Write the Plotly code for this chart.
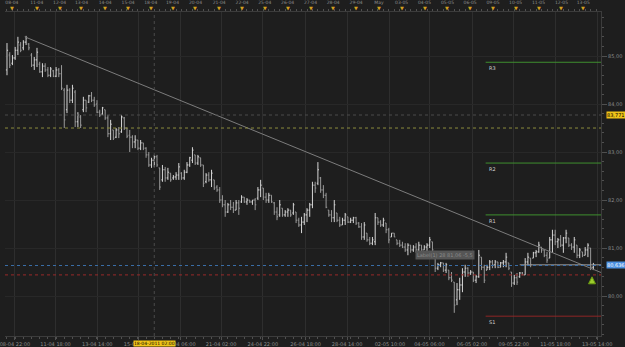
import plotly.graph_objects as go

# ---------------- data ----------------
high = [85.27,85.08,85.02,85.19,85.40,85.29,85.33,85.42,85.27,85.06,84.98,85.17,84.88,84.85,84.85,84.77,84.77,84.71,84.77,84.75,
        84.81,84.33,84.40,84.33,84.40,84.29,83.83,83.77,84.15,84.08,84.19,84.25,84.15,84.08,83.88,83.94,83.88,83.77,83.67,83.46,
        83.50,83.52,83.77,83.73,83.50,83.46,83.35,83.35,83.25,83.25,83.19,83.10,83.00,82.88,82.94,82.94,82.67,82.73,82.69,82.67,
        82.56,82.52,82.58,82.77,82.58,82.63,82.79,82.90,83.10,82.94,82.94,82.88,82.73,82.56,82.58,82.63,82.42,82.31,82.27,82.10,
        82.00,81.94,82.00,81.96,82.00,82.00,82.10,82.06,82.04,82.00,82.00,82.04,82.27,82.42,82.25,82.15,82.15,82.10,81.96,81.85,
        82.00,81.83,81.79,81.83,81.79,81.94,81.75,81.63,81.65,81.73,81.83,81.94,82.38,82.38,82.79,82.48,82.31,82.15,81.79,81.79,
        82.00,81.73,81.65,81.63,81.73,81.65,81.63,81.65,81.65,81.54,81.52,81.54,81.31,81.23,81.23,81.73,81.63,81.58,81.63,81.52,
        81.42,81.31,81.31,81.17,81.17,81.13,81.10,81.10,81.06,81.06,81.10,81.13,81.06,81.06,81.10,81.23,81.13,80.79,80.69,80.71,
        80.69,80.69,80.54,80.50,80.29,80.27,80.38,80.58,80.65,80.60,80.54,80.50,80.44,80.96,80.81,80.65,80.65,80.75,80.75,80.75,
        80.71,80.71,80.75,80.90,80.69,80.50,80.44,80.48,80.50,80.50,80.79,80.90,80.79,80.92,80.96,81.13,81.02,80.96,80.92,81.23,
        81.38,81.38,81.21,81.27,81.23,81.38,81.21,81.10,81.23,81.06,81.00,80.92,81.02,81.10,81.00,80.69]
low = [84.60,84.75,84.81,84.92,85.02,85.08,85.12,85.23,85.12,84.77,84.71,84.77,84.65,84.56,84.67,84.56,84.56,84.56,84.56,84.56,
       84.29,83.50,83.81,84.02,84.02,83.52,83.52,83.50,83.83,83.83,84.02,84.04,83.94,83.81,83.73,83.77,83.67,83.31,83.25,83.25,
       83.29,83.29,83.40,83.46,83.29,83.00,83.08,83.08,83.04,83.04,83.04,82.88,82.69,82.67,82.69,82.69,82.21,82.38,82.38,82.42,
       82.38,82.42,82.42,82.42,82.42,82.42,82.56,82.69,82.77,82.73,82.73,82.69,82.27,82.35,82.38,82.27,82.21,82.17,81.94,81.85,
       81.65,81.73,81.79,81.73,81.79,81.69,81.94,81.94,81.90,81.94,81.90,81.79,82.00,82.06,82.00,81.94,81.94,81.94,81.69,81.58,
       81.65,81.65,81.65,81.65,81.65,81.69,81.52,81.44,81.31,81.48,81.54,81.65,81.83,82.15,82.31,82.15,82.04,81.83,81.65,81.54,
       81.54,81.54,81.44,81.48,81.48,81.52,81.52,81.52,81.48,81.42,81.17,81.17,81.13,81.06,81.06,81.06,81.48,81.44,81.44,81.31,
       81.10,81.23,81.23,81.06,81.02,81.00,80.92,80.85,80.90,80.92,80.90,80.92,80.92,80.96,80.92,81.00,80.90,80.50,80.54,80.60,
       80.50,80.48,80.33,80.29,79.65,79.81,79.92,80.08,80.40,80.40,80.44,80.29,80.27,80.38,80.54,80.27,80.54,80.54,80.58,80.58,
       80.58,80.60,80.60,80.60,80.54,80.19,80.23,80.23,80.38,80.44,80.44,80.65,80.60,80.79,80.81,80.90,80.90,80.81,80.69,80.79,
       80.90,81.06,81.00,81.02,80.90,81.10,81.02,80.96,80.90,80.79,80.79,80.81,80.85,80.81,80.54,80.54]
open_ = [84.71,85.02,84.85,84.96,85.12,85.23,85.17,85.29,85.25,85.02,84.81,84.92,84.83,84.67,84.79,84.71,84.60,84.69,84.58,84.71,
         84.63,84.29,83.88,84.29,84.08,84.25,83.63,83.73,83.88,84.08,84.04,84.17,84.08,84.00,83.83,83.79,83.88,83.71,83.38,83.46,
         83.31,83.46,83.42,83.71,83.50,83.35,83.31,83.21,83.25,83.08,83.19,83.08,82.94,82.73,82.83,82.90,82.67,82.42,82.63,82.46,
         82.56,82.46,82.48,82.52,82.56,82.46,82.58,82.73,82.83,82.94,82.77,82.88,82.73,82.38,82.52,82.42,82.42,82.27,82.21,82.00,
         81.90,81.75,81.90,81.85,81.79,81.94,81.96,82.06,81.96,82.00,81.96,82.00,82.04,82.21,82.25,82.06,82.00,82.10,81.94,81.75,
         81.69,81.83,81.69,81.75,81.79,81.73,81.75,81.58,81.48,81.54,81.69,81.79,81.90,82.31,82.35,82.46,82.21,82.10,81.79,81.69,
         81.63,81.73,81.58,81.48,81.58,81.65,81.54,81.58,81.63,81.52,81.44,81.23,81.31,81.17,81.10,81.13,81.63,81.54,81.48,81.52,
         81.38,81.23,81.31,81.17,81.10,81.06,81.02,80.96,81.06,80.96,81.02,80.96,81.06,80.96,81.02,81.06,81.13,80.79,80.58,80.65,
         80.69,80.54,80.54,80.38,80.29,79.92,80.13,80.23,80.50,80.58,80.48,80.50,80.33,80.40,80.81,80.60,80.54,80.60,80.71,80.65,
         80.71,80.60,80.69,80.71,80.69,80.50,80.27,80.38,80.40,80.48,80.44,80.71,80.79,80.79,80.90,80.92,81.02,80.96,80.85,80.79,
         81.17,81.27,81.13,81.17,81.06,81.21,81.21,81.06,81.02,81.06,80.85,80.92,80.85,80.96,81.00,80.60]
close = [85.12,84.81,84.96,85.12,85.29,85.12,85.29,85.38,85.17,84.81,84.92,85.08,84.67,84.79,84.71,84.60,84.73,84.58,84.71,84.63,
         84.33,83.67,84.29,84.08,84.33,83.63,83.77,83.56,84.08,83.92,84.17,84.08,83.98,83.83,83.77,83.92,83.71,83.38,83.58,83.29,
         83.46,83.38,83.73,83.50,83.33,83.31,83.21,83.25,83.08,83.19,83.08,82.94,82.73,82.83,82.90,82.73,82.27,82.63,82.46,82.58,
         82.42,82.48,82.52,82.69,82.46,82.58,82.73,82.88,83.04,82.77,82.90,82.73,82.35,82.52,82.42,82.56,82.25,82.21,82.00,81.90,
         81.75,81.90,81.85,81.79,81.94,81.83,82.06,81.96,82.00,81.96,82.00,81.90,82.21,82.31,82.06,82.00,82.10,81.96,81.75,81.65,
         81.90,81.69,81.75,81.79,81.69,81.90,81.58,81.48,81.54,81.69,81.79,81.90,82.31,82.25,82.63,82.21,82.10,81.85,81.69,81.63,
         81.90,81.58,81.48,81.58,81.69,81.54,81.58,81.63,81.52,81.44,81.23,81.48,81.17,81.10,81.17,81.63,81.54,81.48,81.58,81.38,
         81.17,81.31,81.23,81.10,81.06,81.02,80.96,81.06,80.96,81.02,80.96,81.06,80.96,81.02,81.06,81.17,80.96,80.58,80.65,80.69,
         80.54,80.65,80.38,80.33,79.81,80.13,80.23,80.50,80.58,80.48,80.50,80.33,80.40,80.85,80.60,80.33,80.60,80.71,80.65,80.71,
         80.60,80.69,80.71,80.81,80.58,80.27,80.38,80.29,80.48,80.44,80.71,80.81,80.65,80.90,80.92,81.06,80.96,80.85,80.75,81.17,
         81.27,81.13,81.17,81.06,81.21,81.31,81.06,81.02,81.17,80.85,80.96,80.85,80.96,81.06,80.60,80.65]
bars = list(range(len(close)))

top_tick_pos = [1.8,10.9,19.3,27.3,36.0,44.4,52.7,60.7,69.1,77.8,86.2,94.5,102.9,111.3,119.6,128.0,136.4,144.7,
                153.1,161.5,169.8,178.2,186.5,194.9,203.3,211.3]
top_tick_text = ["08-04","11-04","12-04","13-04","14-04","15-04","18-04","19-04","20-04","21-04","22-04","25-04",
                 "26-04","27-04","28-04","29-04","May","03-05","04-05","05-05","06-05","09-05","10-05","11-05","12-05","13-05"]
bottom_tick_pos = [2.9,17.8,33.1,48.4,63.6,78.5,93.8,109.5,124.7,140.4,154.9,170.5,185.8,201.1,216.4]
bottom_tick_text = ["08-04 22:00","11-04 18:00","13-04 14:00","15-04 10:00","19-04 06:00","21-04 02:00","24-04 22:00",
                    "26-04 18:00","28-04 14:00","02-05 10:00","04-05 06:00","06-05 02:00","09-05 22:00","11-05 18:00","13-05 14:00"]
price_ticks = [80, 81, 82, 83, 84, 85]
price_tick_text = ["80,00", "81,00", "82,00", "83,00", "84,00", "85,00"]

pivot_names = ["R3", "R2", "R1", "S1"]
pivot_values = [84.87, 82.77, 81.69, 79.58]
pivot_colors = ["#3f8f2f", "#3f8f2f", "#3f8f2f", "#8f2525"]
pivot_start = 175.5

pivot_p = 83.50
marked_level = 83.771
last_price = 80.636
support_dotted = 80.44
bid_line = 80.65
bid_line_start = 188

trend_x = [6.5, 217.8]
trend_y = [85.40, 80.49]

crosshair_bar = 54
crosshair_label = "18-04-2011 02:00"
signal_bar = 214.5
signal_price = 80.40

x_range = [-0.73, 217.8]
y_range = [79.167, 85.917]

BG = "#1e1e1e"
FONT = "DejaVu Sans"

fig = go.Figure()

fig.add_trace(go.Ohlc(
    x=bars, open=open_, high=high, low=low, close=close,
    increasing=dict(line=dict(color="#d6d6d6", width=1)),
    decreasing=dict(line=dict(color="#9a9a9a", width=1)),
    tickwidth=0.4, hoverinfo="skip", showlegend=False))

# trend line
fig.add_trace(go.Scatter(x=trend_x, y=trend_y, mode="lines",
                         line=dict(color="#7c7c7c", width=1), hoverinfo="skip", showlegend=False))

# pivot levels
for name, val, col in zip(pivot_names, pivot_values, pivot_colors):
    fig.add_trace(go.Scatter(x=[pivot_start, x_range[1]], y=[val, val], mode="lines",
                             line=dict(color=col, width=1), hoverinfo="skip", showlegend=False))
    fig.add_annotation(x=pivot_start, y=val, xref="x", yref="y", text=name, showarrow=False,
                       xanchor="left", yanchor="top", xshift=1, yshift=-1,
                       font=dict(family=FONT, size=5, color="#d0d0d0"))

# full-width dotted levels
for val, col in [(pivot_p, "#8c8c3c"), (marked_level, "#4a4a4a"),
                 (last_price, "#3b6fa8"), (support_dotted, "#9a2a2a")]:
    fig.add_shape(type="line", xref="paper", x0=0, x1=1, yref="y", y0=val, y1=val,
                  line=dict(color=col, width=1, dash="dot"))

# bid line
fig.add_trace(go.Scatter(x=[bid_line_start, x_range[1]], y=[bid_line, bid_line], mode="lines",
                         line=dict(color="#9a9a9a", width=1), hoverinfo="skip", showlegend=False))

# crosshair vertical dotted line
fig.add_shape(type="line", xref="x", x0=crosshair_bar, x1=crosshair_bar, yref="paper", y0=0, y1=1,
              line=dict(color="#4a4a4a", width=1, dash="dot"))

# signal arrow
fig.add_trace(go.Scatter(x=[signal_bar], y=[signal_price], mode="markers",
                         marker=dict(symbol="arrow-up", size=7, color="#9ccc2c",
                                     line=dict(color="#6a9a10", width=1)),
                         hoverinfo="skip", showlegend=False))

# tooltip box
fig.add_annotation(x=149.5, y=80.86, xref="x", yref="y", text="Label(1) 28 81,06 -5,5",
                   showarrow=False, xanchor="left", yanchor="middle", bgcolor="#555555",
                   borderpad=1, font=dict(family=FONT, size=5, color="#8a8a8a"))

# right price labels
fig.add_annotation(x=1, xref="paper", y=marked_level, yref="y", text="83,771", showarrow=False,
                   xanchor="left", xshift=5, bgcolor="#f0c419", borderpad=0,
                   font=dict(family=FONT, size=5, color="#000000"))
fig.add_annotation(x=1, xref="paper", y=last_price, yref="y", text="80,636", showarrow=False,
                   xanchor="left", xshift=5, bgcolor="#4a8fe0", borderpad=0,
                   font=dict(family=FONT, size=5, color="#ffffff"))

# bottom crosshair label
fig.add_annotation(x=crosshair_bar, xref="x", y=0, yref="paper", text=crosshair_label, showarrow=False,
                   yanchor="top", yshift=-4, bgcolor="#f0c419", borderpad=0,
                   font=dict(family=FONT, size=4.5, color="#000000"))

# top yellow markers
for p in top_tick_pos:
    fig.add_annotation(x=p, xref="x", y=1, yref="paper", text="▼", showarrow=False,
                       yanchor="bottom", yshift=-1, font=dict(family=FONT, size=5, color="#d4a020"))

fig.add_trace(go.Scatter(x=[top_tick_pos[0]], y=[y_range[0]], xaxis="x2", mode="markers",
                         marker=dict(opacity=0), hoverinfo="skip", showlegend=False))

fig.update_layout(
    width=625, height=347,
    margin=dict(l=0, r=24, t=12, b=11),
    paper_bgcolor=BG, plot_bgcolor=BG,
    font=dict(family=FONT, size=5, color="#8c8c8c"),
    xaxis=dict(range=x_range, tickmode="array", tickvals=bottom_tick_pos, ticktext=bottom_tick_text,
               showgrid=True, gridcolor="#2e2e2e", gridwidth=1, zeroline=False,
               ticks="outside", ticklen=3, tickcolor="#505050",
               showline=True, linecolor="#3c3c3c", ticklabeloverflow="allow",
               tickfont=dict(family=FONT, size=5, color="#8c8c8c"),
               rangeslider=dict(visible=False),
               minor=dict(tickmode="linear", tick0=0, dtick=3, ticklen=2, tickcolor="#505050", showgrid=False)),
    xaxis2=dict(range=x_range, overlaying="x", side="top", anchor="y", tickmode="array",
                tickvals=top_tick_pos, ticktext=top_tick_text, showgrid=False, zeroline=False,
                ticks="outside", ticklen=5, tickcolor=BG, showline=True, linecolor="#3c3c3c",
                ticklabeloverflow="allow",
                tickfont=dict(family=FONT, size=4.5, color="#8c8c8c"),
                minor=dict(tickmode="linear", tick0=0, dtick=2, ticklen=2, tickcolor="#505050")),
    yaxis=dict(range=y_range, side="right", tickmode="array", tickvals=price_ticks, ticktext=price_tick_text,
               showgrid=True, gridcolor="#282828", zeroline=False, ticks="outside", ticklen=5,
               tickcolor="#505050", showline=True, linecolor="#3c3c3c", ticklabeloverflow="allow",
               tickfont=dict(family=FONT, size=5, color="#8c8c8c"),
               minor=dict(tickmode="linear", tick0=79, dtick=0.2, ticklen=2, tickcolor="#505050")),
)

fig.write_html("out.html")
